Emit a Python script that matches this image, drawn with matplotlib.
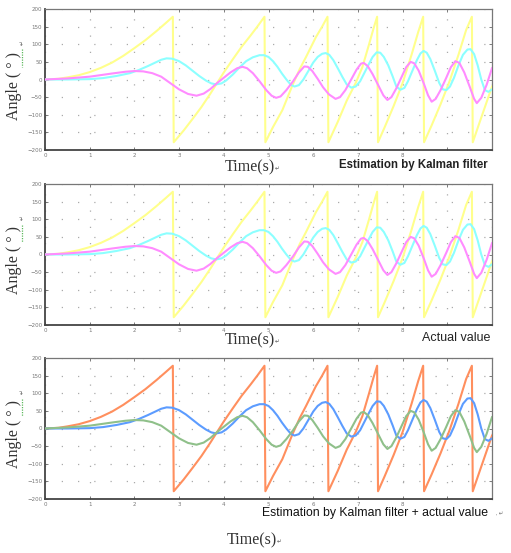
import matplotlib
matplotlib.use("Agg")
import matplotlib.pyplot as plt
from matplotlib.lines import Line2D

# ---------------------------------
# Data
# ---------------------------------

# wrapped angle (yellow / orange)
t_angle = [
    0.0, 0.3, 0.5, 0.75, 1.0, 1.25, 1.5, 1.75, 2.0, 2.25, 2.5, 2.7, 2.86,
    2.88, 3.1, 3.3, 3.5, 3.7, 3.85, 4.0, 4.2, 4.4, 4.6, 4.75, 4.91,
    4.93, 5.1, 5.31, 5.54, 5.7, 5.84, 6.06, 6.2, 6.32,
    6.34, 6.55, 6.75, 6.95, 7.1, 7.25, 7.35, 7.43,
    7.45, 7.6, 7.8, 8.0, 8.2, 8.35, 8.46,
    8.48, 8.65, 8.85, 9.05, 9.25, 9.42, 9.55,
    9.57, 9.7, 9.85, 10.0,
]
angle = [
    0, 2, 6, 12, 21, 33, 48, 67, 89, 112, 138, 160, 178,
    -178, -145, -112, -78, -40, -10, 20, 57, 93, 125, 150, 178,
    -178, -135, -87, -15, 30, 64, 120, 150, 178,
    -178, -120, -60, -10, 35, 100, 145, 178,
    -178, -135, -75, -10, 70, 135, 178,
    -178, -130, -70, -5, 70, 140, 178,
    -178, -130, -75, -20,
]

# cyan / blue curve
t_cyan = [
    0.0, 0.5, 1.0, 1.3, 1.6, 1.9, 2.1, 2.3, 2.5, 2.6, 2.72, 2.85, 3.0,
    3.15, 3.3, 3.45, 3.6, 3.72, 3.83, 3.95, 4.05, 4.2, 4.35, 4.5, 4.65,
    4.8, 4.9, 5.0, 5.1, 5.2, 5.3, 5.4, 5.5, 5.58, 5.68, 5.78, 5.9, 6.0,
    6.1, 6.2, 6.28, 6.36, 6.45, 6.55, 6.65, 6.75, 6.85, 6.95, 7.05, 7.15,
    7.25, 7.33, 7.42, 7.5, 7.58, 7.68, 7.78, 7.86, 7.95, 8.04, 8.12, 8.22,
    8.32, 8.4, 8.47, 8.54, 8.62, 8.72, 8.82, 8.9, 8.98, 9.06, 9.15, 9.25,
    9.35, 9.45, 9.52, 9.6, 9.68, 9.76, 9.84, 9.92, 10.0,
]
cyan = [
    0, 0, 1, 4, 10, 18, 27, 38, 50, 56, 60, 59, 52,
    40, 25, 10, -3, -11, -14, -11, -3, 14, 34, 52, 63,
    69, 69, 64, 52, 36, 17, 0, -15, -20, -16, 0, 26, 48,
    64, 73, 75, 70, 55, 32, 8, -14, -23, -20, -5, 20,
    45, 64, 77, 76, 64, 40, 8, -20, -29, -24, -5, 25,
    55, 74, 81, 76, 58, 25, -10, -28, -30, -20, 5, 40,
    70, 85, 86, 72, 40, 0, -30, -35, -28,
]

# magenta / green curve
t_mag = [
    0.0, 0.5, 1.0, 1.5, 1.8, 2.0, 2.2, 2.4, 2.6, 2.8, 3.0, 3.2, 3.39,
    3.55, 3.7, 3.85, 4.0, 4.15, 4.3, 4.42, 4.52, 4.65, 4.8, 4.95, 5.07,
    5.17, 5.27, 5.4, 5.55, 5.68, 5.8, 5.88, 5.98, 6.1, 6.22, 6.35, 6.5,
    6.6, 6.72, 6.85, 6.97, 7.07, 7.13, 7.22, 7.33, 7.45, 7.57, 7.66, 7.75,
    7.86, 7.97, 8.08, 8.18, 8.26, 8.36, 8.47, 8.57, 8.65, 8.74, 8.85, 8.97,
    9.08, 9.18, 9.27, 9.38, 9.5, 9.6, 9.66, 9.76, 9.88, 10.0,
]
mag = [
    0, 3, 8, 17, 22, 24, 23, 18, 8, -10, -28, -41, -46,
    -40, -27, -10, 5, 20, 32, 36, 32, 18, -5, -30, -46,
    -52, -48, -30, -5, 20, 37, 36, 24, 2, -22, -42, -55,
    -50, -30, 0, 28, 45, 47, 38, 15, -15, -45, -58, -50,
    -25, 5, 35, 50, 46, 25, -10, -45, -63, -55, -30, 3,
    35, 52, 47, 20, -20, -55, -67, -52, -15, 32,
]

x_ticks = list(range(0, 11))
x_ticklabels = ["0", "1", "2", "3", "4", "5", "6", "7", "8", "", ""]
y_ticks = [-200, -150, -100, -50, 0, 50, 100, 150, 200]

captions = [
    "Estimation by Kalman filter",
    "Actual value",
    "Estimation by Kalman filter + actual value",
]

# ---------------------------------
# Figure
# ---------------------------------

W, H = 511, 553
fig = plt.figure(figsize=(W / 100, H / 100), dpi=100)
fig.patch.set_facecolor("white")

# axes boxes in pixels: (left, top, right, bottom)
boxes = [
    (45, 9, 492, 150),
    (45, 184, 492, 325),
    (45, 358, 492, 499),
]

panel_colors = [
    ("#ffff8c", "#8cffff", "#ff8cff"),
    ("#ffff8c", "#8cffff", "#ff8cff"),
    ("#ff8f5e", "#5c9cff", "#8fc08a"),
]

serif = ["Liberation Serif", "DejaVu Sans"]

for i, (l, t, r, b) in enumerate(boxes):
    ax = fig.add_axes([l / W, 1 - b / H, (r - l) / W, (b - t) / H])

    c_ang, c_cy, c_mg = panel_colors[i]

    ax.plot(t_angle, angle, color=c_ang, lw=1.5, zorder=3)
    ax.plot(t_cyan, cyan, color=c_cy, lw=1.5, zorder=3)
    ax.plot(t_mag, mag, color=c_mg, lw=1.5, zorder=3)

    ax.set_xlim(0, 10)
    ax.set_ylim(-200, 200)
    ax.set_xticks(x_ticks)
    ax.set_xticklabels(x_ticklabels)
    ax.set_yticks(y_ticks)

    ax.tick_params(
        direction="in", length=2.5, width=0.6, color="#666666",
        labelsize=4, labelcolor="#777777", pad=2,
        top=True, right=True,
    )

    ax.grid(True, color="#aaaaaa", lw=0.9, linestyle=(0, (1, 12)))

    for side in ["left", "bottom"]:
        ax.spines[side].set_color("#444444")
        ax.spines[side].set_linewidth(1.3)
    for side in ["top", "right"]:
        ax.spines[side].set_color("#777777")
        ax.spines[side].set_linewidth(0.9)

    # y label (rotated), with the word-processor marks
    yc_px = (t + b) / 2 + 6
    fig.text(14 / W, 1 - yc_px / H, "Angle ( ° )", rotation=90,
             ha="center", va="center", fontsize=11.5, family=serif,
             color="#333333")
    fig.text(23 / W, 1 - (yc_px - 43) / H, "\u21b5", rotation=90,
             ha="center", va="center", fontsize=4, family=serif,
             color="#555555")
    fig.add_artist(Line2D(
        [22 / W, 22 / W],
        [1 - (yc_px - 36) / H, 1 - (yc_px - 19) / H],
        color="#5cb85c", lw=0.9, linestyle=(0, (1, 1)),
    ))

# ---------------------------------
# Captions and x labels
# ---------------------------------

fig.text(225 / W, 1 - 167 / H, "Time(s)", ha="left", va="center",
         fontsize=11.5, family=serif, color="#333333")
fig.text(275 / W, 1 - 169 / H, "\u21b5", ha="left", va="center",
         fontsize=4, family=serif, color="#555555")
fig.text(488 / W, 1 - 165 / H, captions[0], ha="right", va="center",
         fontsize=8.3, fontweight="bold", family="Liberation Sans",
         color="#222222")

fig.text(225 / W, 1 - 340 / H, "Time(s)", ha="left", va="center",
         fontsize=11.5, family=serif, color="#333333")
fig.text(275 / W, 1 - 342 / H, "\u21b5", ha="left", va="center",
         fontsize=4, family=serif, color="#555555")
fig.text(490 / W, 1 - 338 / H, captions[1], ha="right", va="center",
         fontsize=9, family="Liberation Sans", color="#222222")

fig.text(488 / W, 1 - 513 / H, captions[2], ha="right", va="center",
         fontsize=8.8, family="Liberation Sans", color="#111111")
fig.text(496 / W, 1 - 514 / H, ", \u21b5", ha="left", va="center",
         fontsize=4, family=serif, color="#777777")

fig.text(227 / W, 1 - 540 / H, "Time(s)", ha="left", va="center",
         fontsize=11.5, family=serif, color="#333333")
fig.text(277 / W, 1 - 542 / H, "\u21b5", ha="left", va="center",
         fontsize=4, family=serif, color="#555555")

fig.savefig("out.png", dpi=100, facecolor="white")
